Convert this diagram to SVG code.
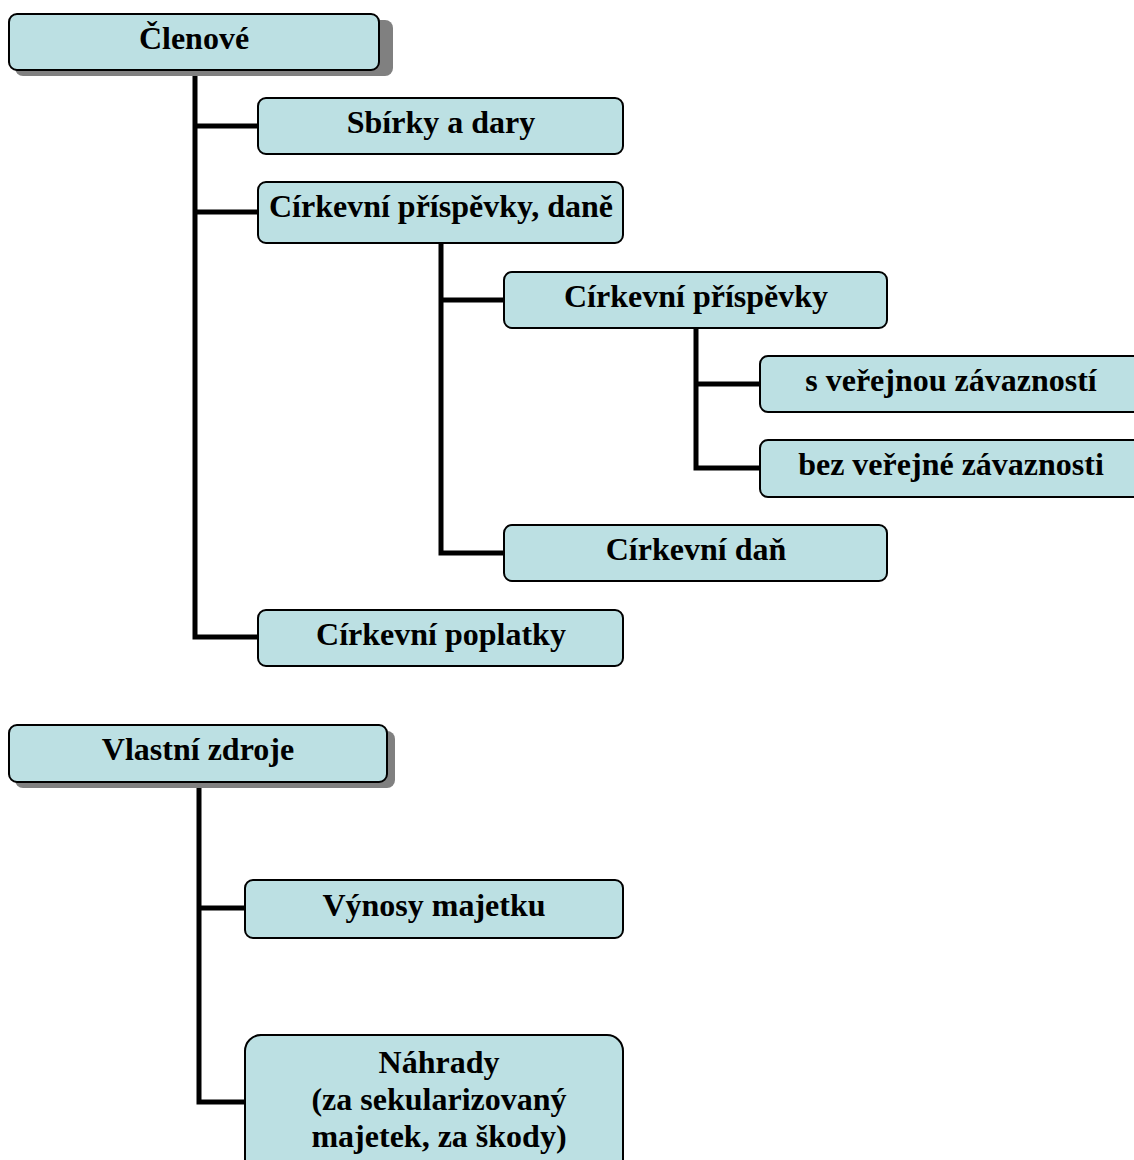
<svg xmlns="http://www.w3.org/2000/svg" width="1134" height="1160" viewBox="0 0 1134 1160">
<style>
.box{fill:#bce0e3;stroke:#000;stroke-width:2}
.sh{fill:#808080}
text{font-family:'Liberation Serif','Times New Roman',Times,serif;font-weight:700;font-size:32px;fill:#000;text-anchor:middle}
.c{fill:none;stroke:#000;stroke-width:5}
</style>
<rect width="1134" height="1160" fill="#fff"/>
<g id="connectors">
<path class="c" d="M195 70 V637 H258 M195 126 H258 M195 212 H258"/>
<path class="c" d="M441 243 V553 H504 M441 300 H504"/>
<path class="c" d="M696 328 V468 H760 M696 384 H760"/>
<path class="c" d="M199 782 V1102 H245 M199 908 H245"/>
</g>
<g id="clenove">
<rect class="sh" x="15" y="20" width="378" height="56" rx="8"/>
<rect class="box" x="9" y="14" width="370" height="56" rx="8"/>
<text x="194" y="49">Členové</text>
</g>
<g id="sbirky">
<rect class="box" x="258" y="98" width="365" height="56" rx="8"/>
<text x="441" y="133">Sbírky a dary</text>
</g>
<g id="cirkevni-prispevky-dane">
<rect class="box" x="258" y="182" width="365" height="61" rx="8"/>
<text x="441" y="217">Církevní příspěvky, daně</text>
</g>
<g id="cirkevni-prispevky">
<rect class="box" x="504" y="272" width="383" height="56" rx="8"/>
<text x="696" y="307">Církevní příspěvky</text>
</g>
<g id="s-verejnou">
<rect class="box" x="760" y="356" width="382" height="56" rx="8"/>
<text x="951" y="391">s veřejnou závazností</text>
</g>
<g id="bez-verejne">
<rect class="box" x="760" y="440" width="382" height="57" rx="8"/>
<text x="951" y="475">bez veřejné závaznosti</text>
</g>
<g id="cirkevni-dan">
<rect class="box" x="504" y="525" width="383" height="56" rx="8"/>
<text x="696" y="560">Církevní daň</text>
</g>
<g id="cirkevni-poplatky">
<rect class="box" x="258" y="610" width="365" height="56" rx="8"/>
<text x="441" y="645">Církevní poplatky</text>
</g>
<g id="vlastni-zdroje">
<rect class="sh" x="15" y="731" width="380" height="57" rx="8"/>
<rect class="box" x="9" y="725" width="378" height="57" rx="8"/>
<text x="198" y="760">Vlastní zdroje</text>
</g>
<g id="vynosy">
<rect class="box" x="245" y="880" width="378" height="58" rx="8"/>
<text x="434" y="916">Výnosy majetku</text>
</g>
<g id="nahrady">
<rect class="box" x="245" y="1035" width="378" height="140" rx="16"/>
<text x="439" y="1073">Náhrady</text>
<text x="439" y="1110">(za sekularizovaný</text>
<text x="439" y="1147">majetek, za škody)</text>
</g>
</svg>
